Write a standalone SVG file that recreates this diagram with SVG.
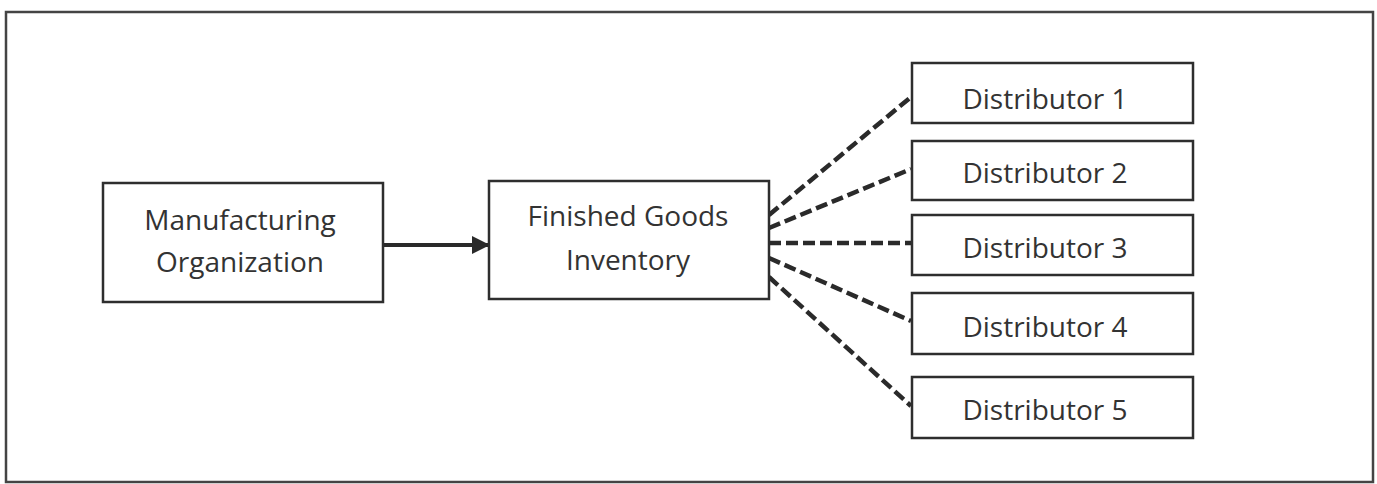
<svg xmlns="http://www.w3.org/2000/svg" width="1377" height="484" viewBox="0 0 1377 484">
<defs>
<style>
.box{fill:#fff;stroke:#2e2e2e;stroke-width:2.5}
.t{font-family:"Open Sans","Liberation Sans",sans-serif;font-size:28px;fill:#333;text-anchor:middle}
.dash{stroke:#2a2a2a;stroke-width:4.5;stroke-dasharray:12 5;fill:none}
</style>
<marker id="ah" markerWidth="18" markerHeight="18" refX="17" refY="9" orient="auto" markerUnits="userSpaceOnUse">
<path d="M0,0 L18,9 L0,18 Z" fill="#2a2a2a"/>
</marker>
</defs>
<rect width="1377" height="484" fill="#fff"/>
<rect x="6" y="12" width="1367" height="470" fill="none" stroke="#444" stroke-width="2.5"/>
<g id="connectors">
<line x1="383" y1="245" x2="489" y2="245" stroke="#2a2a2a" stroke-width="4" marker-end="url(#ah)"/>
<line class="dash" x1="769" y1="215" x2="911" y2="97"/>
<line class="dash" x1="769" y1="228" x2="911" y2="169"/>
<line class="dash" x1="769" y1="243" x2="911" y2="243"/>
<line class="dash" x1="769" y1="258" x2="911" y2="321"/>
<line class="dash" x1="769" y1="277" x2="911" y2="406"/>
</g>
<g id="manufacturing">
<rect class="box" x="103" y="183" width="280" height="119"/>
<text class="t" x="240" y="230">Manufacturing</text>
<text class="t" x="240" y="272">Organization</text>
</g>
<g id="finished-goods">
<rect class="box" x="489" y="181" width="280" height="118"/>
<text class="t" x="628" y="226">Finished Goods</text>
<text class="t" x="628" y="270">Inventory</text>
</g>
<g id="distributor1">
<rect class="box" x="912" y="63" width="281" height="60"/>
<text class="t" x="1045" y="109">Distributor 1</text>
</g>
<g id="distributor2">
<rect class="box" x="912" y="141" width="281" height="59"/>
<text class="t" x="1045" y="183">Distributor 2</text>
</g>
<g id="distributor3">
<rect class="box" x="912" y="215" width="281" height="60"/>
<text class="t" x="1045" y="258">Distributor 3</text>
</g>
<g id="distributor4">
<rect class="box" x="912" y="293" width="281" height="61"/>
<text class="t" x="1045" y="337">Distributor 4</text>
</g>
<g id="distributor5">
<rect class="box" x="912" y="377" width="281" height="61"/>
<text class="t" x="1045" y="420">Distributor 5</text>
</g>
</svg>
